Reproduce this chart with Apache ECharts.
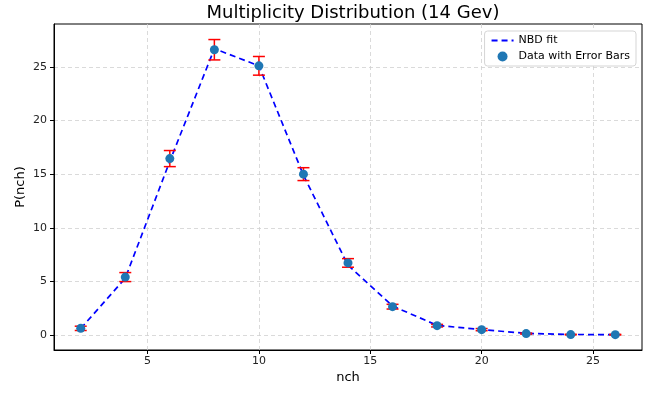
<!DOCTYPE html>
<html>
<head>
<meta charset="utf-8">
<script src="https://cdn.jsdelivr.net/npm/echarts@6/dist/echarts.min.js"></script>
<style>
  html, body { margin: 0; padding: 0; background: #fff; }
  #chart { width: 660px; height: 393px; }
</style>
</head>
<body>
<div id="chart"></div>
<script>
// values
const nch = [2, 4, 6, 8, 10, 12, 14, 16, 18, 20, 22, 24, 26]
const pData = [0.62, 5.4, 16.45, 26.6, 25.1, 15.0, 6.72, 2.64, 0.87, 0.5, 0.13, 0.04, 0.03]
const pErr = [0.2, 0.42, 0.75, 0.95, 0.87, 0.6, 0.4, 0.22, 0.12, 0.1, 0.05, 0.03, 0.03]
const fitVals = [0.6, 5.3, 16.2, 26.7, 25.1, 14.9, 6.5, 2.7, 0.9, 0.5, 0.15, 0.05, 0.03]
const xTicks = [5, 10, 15, 20, 25]
const yTicks = [0, 5, 10, 15, 20, 25]

const chart = echarts.init(document.getElementById('chart'))
const font = 'DejaVu Sans'

const option = {
  animation: false,
  textStyle: { fontFamily: font },
  title: {
    text: 'Multiplicity Distribution (14 Gev)',
    left: 348,
    textAlign: 'center',
    top: -1,
    textStyle: { fontFamily: font, fontSize: 18, fontWeight: 'normal', color: '#000' }
  },
  legend: {
    orient: 'vertical',
    right: 24,
    top: 31,
    padding: [4, 6, 4, 6],
    itemGap: 5,
    itemWidth: 22,
    itemHeight: 10,
    backgroundColor: '#fff',
    borderColor: '#d5d5d5',
    borderWidth: 1,
    borderRadius: 3,
    textStyle: { fontFamily: font, fontSize: 11, color: '#000' },
    data: [
      // hide the symbol the line legend adds, keep only the dashes
      { name: 'NBD fit', itemStyle: { color: 'rgba(0,0,0,0)', borderWidth: 0 } },
      { name: 'Data with Error Bars', icon: 'circle', itemStyle: { color: '#1f77b4' } }
    ]
  },
  grid: {
    left: 54, right: 18, top: 24, bottom: 43,
    show: true,
    borderColor: '#000',
    borderWidth: 1
  },
  xAxis: {
    type: 'value',
    min: 0.8,
    max: 27.2,
    name: 'nch',
    nameLocation: 'middle',
    nameGap: 21,
    nameMoveOverlap: false,
    nameTextStyle: { fontFamily: font, fontSize: 13, color: '#000' },
    axisLine: { show: true, onZero: false, lineStyle: { color: '#000', width: 1 } },
    axisTick: { show: true, length: 4, customValues: xTicks, lineStyle: { color: '#000' } },
    axisLabel: { customValues: xTicks, fontSize: 11, color: '#222', margin: 6 },
    splitLine: { show: true, lineStyle: { color: '#d0d0d0', type: [4, 3], width: 0.8 } }
  },
  yAxis: {
    type: 'value',
    min: -1.4,
    max: 29.0,
    name: 'P(nch)',
    nameLocation: 'middle',
    nameGap: 27,
    nameMoveOverlap: false,
    nameTextStyle: { fontFamily: font, fontSize: 13, color: '#000' },
    axisLine: { show: true, onZero: false, lineStyle: { color: '#000', width: 1 } },
    axisTick: { show: true, length: 4, customValues: yTicks, lineStyle: { color: '#000' } },
    axisLabel: { customValues: yTicks, fontSize: 11, color: '#222', margin: 7 },
    splitLine: { show: true, lineStyle: { color: '#d0d0d0', type: [4, 3], width: 0.8 } }
  },
  series: [
    {
      name: 'NBD fit',
      type: 'line',
      data: nch.map((x, i) => [x, fitVals[i]]),
      symbol: 'none',
      itemStyle: { color: '#0000ff' },
      lineStyle: { color: '#0000ff', width: 1.7, type: [6, 4] },
      z: 2
    },
    {
      name: 'Data with Error Bars',
      type: 'custom',
      data: nch.map((x, i) => [x, pData[i], pErr[i]]),
      itemStyle: { color: '#ff0000' },
      renderItem: (params, api) => {
        const x = api.value(0)
        const y = api.value(1)
        const e = api.value(2)
        const top = api.coord([x, y + e])
        const bot = api.coord([x, y - e])
        const hw = 6
        const style = { stroke: '#ff0000', lineWidth: 1.5 }
        return {
          type: 'group',
          children: [
            { type: 'line', shape: { x1: top[0], y1: top[1], x2: bot[0], y2: bot[1] }, style },
            { type: 'line', shape: { x1: top[0] - hw, y1: top[1], x2: top[0] + hw, y2: top[1] }, style },
            { type: 'line', shape: { x1: bot[0] - hw, y1: bot[1], x2: bot[0] + hw, y2: bot[1] }, style }
          ]
        }
      },
      z: 3
    },
    {
      name: 'Data with Error Bars',
      type: 'scatter',
      data: nch.map((x, i) => [x, pData[i]]),
      symbol: 'circle',
      symbolSize: 9,
      itemStyle: { color: '#1f77b4', opacity: 1 },
      z: 4
    }
  ]
}

chart.setOption(option)
</script>
</body>
</html>
